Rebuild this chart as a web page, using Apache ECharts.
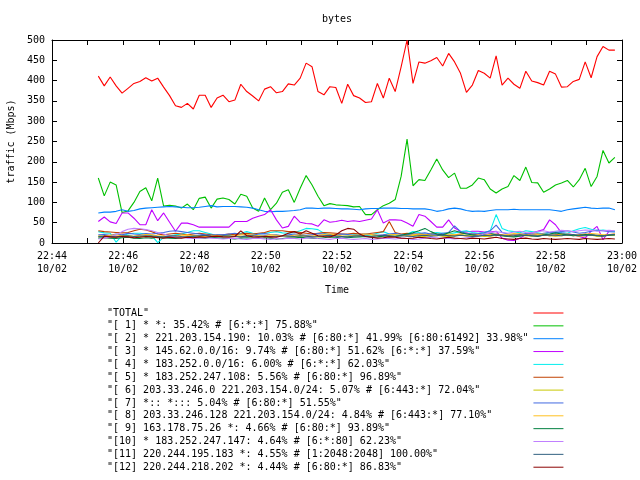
<!DOCTYPE html>
<html><head><meta charset="utf-8">
<script src="https://cdn.jsdelivr.net/npm/echarts@6/dist/echarts.min.js"></script>
<style>html,body{margin:0;padding:0;background:#fff}#c{width:640px;height:480px}</style>
</head><body><div id="c"></div>
<script>
// x tick labels (every 2 minutes), date line
const tickTimes = ['22:44','22:46','22:48','22:50','22:52','22:54','22:56','22:58','23:00'];
const tickDate = '10/02';
// sampling: first sample 22:45:18, every 10 s (seconds after 22:44)
const startSec = 78;
const stepSec = 10;

const seriesNames = [
  '"TOTAL"',
  '"[ 1] * *: 35.42% # [6:*:*] 75.88%"',
  '"[ 2] * 221.203.154.190: 10.03% # [6:80:*] 41.99% [6:80:61492] 33.98%"',
  '"[ 3] * 145.62.0.0/16: 9.74% # [6:80:*] 51.62% [6:*:*] 37.59%"',
  '"[ 4] * 183.252.0.0/16: 6.00% # [6:*:*] 62.03%"',
  '"[ 5] * 183.252.247.108: 5.56% # [6:80:*] 96.89%"',
  '"[ 6] 203.33.246.0 221.203.154.0/24: 5.07% # [6:443:*] 72.04%"',
  '"[ 7] *:: *::: 5.04% # [6:80:*] 51.55%"',
  '"[ 8] 203.33.246.128 221.203.154.0/24: 4.84% # [6:443:*] 77.10%"',
  '"[ 9] 163.178.75.26 *: 4.66% # [6:80:*] 93.89%"',
  '"[10] * 183.252.247.147: 4.64% # [6:*:80] 62.23%"',
  '"[11] 220.244.195.183 *: 4.55% # [1:2048:2048] 100.00%"',
  '"[12] 220.244.218.202 *: 4.44% # [6:80:*] 86.83%"'
];
const seriesColors = ['#ff0000','#00c000','#0080ff','#c000ff','#00eeee','#c04000','#c8c800','#4169e1','#ffc020','#008040','#c080ff','#306080','#8b0000'];

const total = [
 411,387,409,387,369,381,393,398,407,399,406,
 384,363,338,334,344,330,364,364,334,357,364,
 348,352,391,373,362,350,379,385,370,373,392,
 389,406,443,434,373,365,385,383,344,391,363,
 357,346,348,393,357,406,373,434,500,393,446,
 443,449,457,436,467,446,418,371,389,425,418,
 406,461,389,406,391,381,423,399,395,389,423,
 416,384,385,398,403,446,407,459,484,475,475];
const s1 = [
 160,116,150,143,75,79,100,127,136,104,160,
 91,93,91,86,96,82,110,113,86,108,111,
 107,96,120,115,86,78,111,82,98,125,131,
 100,135,166,143,115,92,97,94,93,92,89,
 90,70,70,82,92,98,107,164,256,141,156,
 154,180,207,180,161,172,135,135,143,160,156,
 133,123,133,139,166,154,187,149,148,125,133,
 143,148,154,138,156,184,139,164,228,197,211];
const s2 = [
 74,76,76,78,82,78,80,84,86,87,88,
 89,90,89,88,87,87,88,90,92,89,90,
 90,90,89,88,86,82,78,77,78,78,79,
 80,82,86,86,85,86,86,85,84,84,83,
 82,84,85,85,86,86,86,85,85,84,84,
 84,82,78,80,84,86,84,80,78,79,78,
 80,82,82,82,83,82,82,82,82,82,82,
 80,78,82,84,86,88,86,85,86,86,82];
const s3 = [
 53,64,52,48,74,74,61,45,45,82,55,
 74,51,29,49,49,45,39,39,39,39,39,
 39,53,53,53,61,66,70,82,57,37,41,
 66,51,48,47,41,57,51,53,56,53,55,
 53,56,59,82,49,57,57,56,49,41,70,
 66,53,39,39,57,37,29,27,29,29,27,
 27,29,12,7,6,12,20,25,29,33,57,
 45,25,23,20,16,12,29,41,8,29,29];
const s4 = [
 28,25,24,2,18,22,24,24,22,18,1,
 14,18,20,22,26,30,30,26,22,18,18,
 20,22,24,28,24,22,24,26,28,25,24,
 26,30,36,35,33,24,20,18,16,18,20,
 22,18,20,24,28,22,20,18,22,28,26,
 20,22,26,24,22,25,28,30,26,24,26,
 30,70,36,30,28,25,30,28,25,22,26,
 28,25,24,30,35,38,34,30,32,30,28];
const s5 = [
 30,28,27,26,25,26,30,34,32,28,22,
 20,22,24,22,20,22,24,22,20,18,20,
 22,20,22,24,22,24,26,30,30,30,28,
 28,26,24,22,24,26,25,24,22,22,24,
 22,22,24,26,28,53,26,22,24,22,20,
 20,22,22,20,18,20,22,24,22,20,18,
 20,22,20,18,20,22,20,22,22,20,18,
 20,22,20,18,20,22,20,18,18,20,22];
const s6 = [
 15,16,14,15,17,18,16,15,17,16,14,
 15,17,16,14,15,18,17,15,14,16,17,
 18,16,15,17,19,18,16,15,17,18,16,
 15,17,18,16,15,17,19,18,16,15,17,
 18,16,17,19,18,16,17,18,20,19,17,
 16,18,19,17,16,18,20,19,17,18,16,
 17,19,18,16,17,19,18,17,19,20,18,
 17,18,20,19,17,18,19,17,18,20,19];
const s7 = [
 20,21,19,22,20,24,22,21,23,22,24,
 26,29,30,28,26,24,22,20,19,21,20,
 22,24,21,20,19,22,23,21,20,18,20,
 22,21,19,20,23,22,21,20,22,21,19,
 20,22,21,19,20,22,24,21,20,22,23,
 25,22,21,24,26,42,28,24,22,23,25,
 30,44,26,22,20,21,23,22,20,24,26,
 25,28,30,27,24,26,29,32,30,28,27];
const s8 = [
 18,17,19,20,18,16,17,19,21,20,18,
 17,16,18,19,20,18,17,16,18,19,17,
 16,18,20,21,19,17,18,20,19,18,17,
 19,20,18,17,19,21,22,20,18,17,19,
 20,22,21,19,18,20,21,19,18,20,22,
 21,19,18,20,22,21,19,17,18,20,21,
 22,20,19,21,23,22,20,19,21,22,20,
 19,21,22,20,19,21,23,22,20,21,22];
const s9 = [
 12,13,12,11,13,14,12,11,13,12,14,
 13,12,11,13,14,15,13,12,14,13,12,
 11,10,12,13,12,11,13,12,10,11,13,
 12,14,13,12,11,13,15,14,12,13,14,
 15,16,14,15,17,18,16,19,22,25,30,
 36,28,22,20,25,30,26,22,20,18,22,
 24,20,18,16,15,17,19,18,16,20,22,
 25,22,20,18,19,21,20,18,17,19,20];
const s10 = [
 10,12,15,20,28,34,36,35,33,30,26,
 22,18,15,14,12,11,12,13,12,11,10,
 11,12,10,9,11,12,10,9,11,10,12,
 11,10,12,13,11,10,9,11,12,10,9,
 10,11,9,10,12,11,10,12,11,9,10,
 12,14,13,11,12,10,11,13,15,18,22,
 25,28,26,24,27,29,26,25,28,30,27,
 29,31,30,28,30,32,31,29,30,31,30];
const s11 = [
 16,17,16,15,17,18,16,17,18,17,16,
 15,17,18,16,15,17,18,19,17,16,18,
 17,16,15,17,18,16,17,15,16,18,17,
 16,18,17,15,16,18,19,17,16,15,17,
 18,17,16,18,19,17,16,18,17,16,18,
 19,17,18,20,18,17,19,18,16,17,19,
 18,20,19,17,18,20,19,18,17,19,20,
 19,18,20,21,19,18,20,19,18,20,21];
const s12 = [
 0,17,15,14,16,15,13,14,16,15,13,
 12,14,13,12,14,13,15,14,16,17,15,
 14,16,30,18,15,14,16,15,14,18,24,
 28,22,30,24,18,16,15,20,30,36,34,
 22,16,14,12,13,15,14,12,11,12,14,
 13,11,10,12,14,12,11,10,12,11,10,
 12,14,11,10,9,11,12,10,9,11,10,
 9,10,11,10,9,11,10,9,10,11,10];

const allValues = [total,s1,s2,s3,s4,s5,s6,s7,s8,s9,s10,s11,s12];
const FONT = 'DejaVu Sans Mono';
const padLen = 70;

const chart = echarts.init(document.getElementById('c'), null, {renderer: 'canvas'});
const series = allValues.map((vals, si) => ({
  name: seriesNames[si],
  type: 'line',
  xAxisIndex: 0, yAxisIndex: 0,
  showSymbol: false,
  symbol: 'none',
  animation: false,
  color: seriesColors[si],
  lineStyle: {width: 1.1, color: seriesColors[si]},
  emphasis: {disabled: true},
  data: vals.map((v, i) => [startSec + i * stepSec, v])
}));

const xCommon = {type: 'value', min: 0, max: 960, interval: 60,
  splitLine: {show: false},
  axisLine: {show: true, onZero: false, lineStyle: {color: '#000', width: 1}},
  axisTick: {show: true, inside: true, length: 5, lineStyle: {color: '#000'}}};
const yCommon = {type: 'value', min: 0, max: 500, interval: 50,
  splitLine: {show: false},
  axisLine: {show: true, onZero: false, lineStyle: {color: '#000', width: 1}},
  axisTick: {show: true, inside: true, length: 5, lineStyle: {color: '#000'}}};

chart.setOption({
  animation: false,
  backgroundColor: '#fff',
  textStyle: {fontFamily: FONT},
  title: {text: 'bytes', left: 337, top: 13, padding: 0, textAlign: 'center',
    textStyle: {fontFamily: FONT, fontSize: 10, fontWeight: 'normal', color: '#000', lineHeight: 12}},
  grid: {left: 52, right: 18, top: 40, bottom: 237, containLabel: false, outerBoundsMode: 'none'},
  xAxis: [
    Object.assign({}, xCommon, {position: 'bottom', name: 'Time', nameLocation: 'middle', nameGap: 42,
      nameTextStyle: {fontFamily: FONT, fontSize: 10, color: '#000'},
      axisLabel: {show: true, margin: 7, color: '#000', fontFamily: FONT, fontSize: 10, lineHeight: 13,
        formatter: v => (v % 120 === 0) ? tickTimes[v / 120] + '\n' + tickDate : ''}}),
    Object.assign({}, xCommon, {position: 'top', axisLabel: {show: false}})
  ],
  yAxis: [
    Object.assign({}, yCommon, {position: 'left', name: 'traffic (Mbps)', nameLocation: 'middle', nameGap: 36,
      nameTextStyle: {fontFamily: FONT, fontSize: 10, color: '#000'},
      axisLabel: {show: true, margin: 7, color: '#000', fontFamily: FONT, fontSize: 10}}),
    Object.assign({}, yCommon, {position: 'right', axisLabel: {show: false}})
  ],
  legend: {
    show: true, orient: 'vertical', left: 107, top: 307, padding: 0,
    align: 'right', itemGap: 0.85, itemWidth: 30, itemHeight: 1, icon: 'rect',
    selectedMode: false,
    data: seriesNames.map((n, i) => ({name: n, itemStyle: {color: seriesColors[i]}})),
    formatter: name => name.padEnd(padLen, ' '),
    textStyle: {fontFamily: FONT, fontSize: 10, color: '#000', lineHeight: 12.0}
  },
  series: series
});
</script></body></html>
